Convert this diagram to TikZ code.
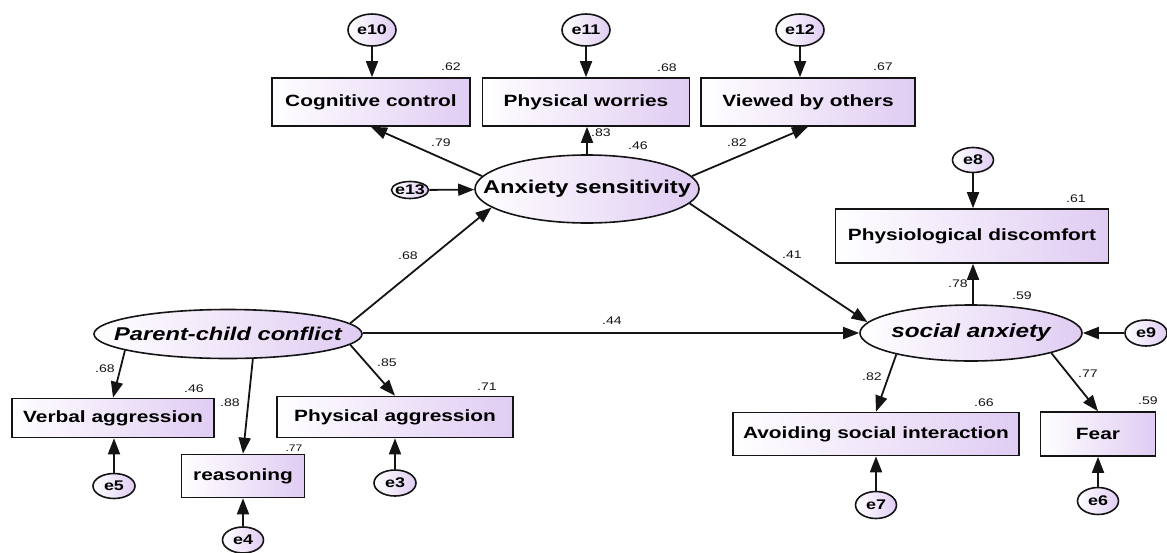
\documentclass[tikz,border=0pt]{standalone}
\usepackage{fontspec}
\setmainfont{Liberation Sans}[FakeStretch=1.28]
\usetikzlibrary{arrows.meta,shapes.geometric}
\definecolor{lav}{RGB}{224,204,243}
\definecolor{ink}{RGB}{20,20,20}
\newcommand{\zb}[1]{\makebox[0pt]{#1}}
\tikzset{
 obs/.style={draw=ink, line width=1.6pt, left color=white, right color=lav, inner sep=0pt, font=\fontsize{16.3}{18}\selectfont\bfseries},
 lat/.style={ellipse, draw=ink, line width=1.6pt, left color=white, right color=lav, inner sep=0pt, font=\fontsize{18.5}{20}\selectfont\bfseries},
 err/.style={ellipse, draw=ink, line width=1.6pt, left color=white, right color=lav, inner sep=0pt, font=\fontsize{14}{16}\selectfont\bfseries},
 lbl/.style={font=\fontsize{11}{12}\selectfont, inner sep=0pt, text=ink},
 arr/.style={draw=ink, line width=1.8pt, -{Triangle[length=16pt,width=12pt]}},
}
\begin{document}
\begin{tikzpicture}[x=1pt,y=-1pt]
\useasboundingbox (0,0) rectangle (1167,552);
% observed boxes
\node[obs, minimum width=198pt, minimum height=48pt] (cog) at (371,102) {Cognitive control};
\node[obs, minimum width=207pt, minimum height=48pt] (pw) at (586,102) {Physical worries};
\node[obs, minimum width=214pt, minimum height=48pt] (vbo) at (808,102) {Viewed by others};
\node[obs, minimum width=273pt, minimum height=54pt] (pd) at (972,236) {Physiological discomfort};
\node[obs, minimum width=286pt, minimum height=43pt] (asi) at (876,434) {Avoiding social interaction};
\node[obs, minimum width=115pt, minimum height=44pt] (fear) at (1098,434) {Fear};
\node[obs, minimum width=202pt, minimum height=39pt] (va) at (113,418) {Verbal aggression};
\node[obs, minimum width=236pt, minimum height=41pt] (pa) at (395,417) {Physical aggression};
\node[obs, minimum width=123pt, minimum height=43pt] (re) at (243,476) {reasoning};
% latent
\node[lat, minimum width=224pt, minimum height=68pt] (as) at (587,189) {\zb{Anxiety sensitivity}};
\node[lat, minimum width=222pt, minimum height=56pt, font=\fontsize{19}{20}\selectfont\bfseries\itshape] (sa) at (971,333) {\zb{social anxiety}};
\node[lat, minimum width=268pt, minimum height=49pt, font=\fontsize{18.5}{20}\selectfont\bfseries\itshape] (pcc) at (228,334) {\zb{Parent-child conflict}};
% errors
\node[err, minimum width=48pt, minimum height=32pt] (e10) at (372,30) {\zb{e10}};
\node[err, minimum width=48pt, minimum height=32pt] (e11) at (586,30) {\zb{e11}};
\node[err, minimum width=48pt, minimum height=32pt] (e12) at (800,30) {\zb{e12}};
\node[err, minimum width=37pt, minimum height=17pt] (e13) at (410,190) {\zb{e13}};
\node[err, minimum width=41pt, minimum height=25pt] (e8) at (973,160) {\zb{e8}};
\node[err, minimum width=42pt, minimum height=26pt] (e9) at (1146,333) {\zb{e9}};
\node[err, minimum width=41pt, minimum height=27pt] (e7) at (876,505) {\zb{e7}};
\node[err, minimum width=41pt, minimum height=27pt] (e6) at (1098,501) {\zb{e6}};
\node[err, minimum width=42pt, minimum height=25pt] (e5) at (114,486) {\zb{e5}};
\node[err, minimum width=41pt, minimum height=26pt] (e4) at (243,540) {\zb{e4}};
\node[err, minimum width=42pt, minimum height=26pt] (e3) at (395,483) {\zb{e3}};
% arrows
\draw[arr] (e10) -- (e10 |- cog.north);
\draw[arr] (e11) -- (e11 |- pw.north);
\draw[arr] (e12) -- (e12 |- vbo.north);
\draw[arr] (as.173) -- (cog.south);
\draw[arr] (as) -- (as |- pw.south);
\draw[arr] (as.7) -- (vbo.south);
\draw[arr] (e13) -- (as);
\draw[arr] (pcc.5) -- (as.191);
\draw[arr] (pcc.east |- sa) -- (sa);
\draw[arr] (as.-8) -- (sa.174);
\draw[arr] (pcc.189) -- (va.north);
\draw[arr] (pcc.-45) -- (re.north);
\draw[arr] (pcc.-5) -- (pa.north);
\draw[arr] (e5) -- (e5 |- va.south);
\draw[arr] (e4) -- (e4 |- re.south);
\draw[arr] (e3) -- (e3 |- pa.south);
\draw[arr] (e8) -- (e8 |- pd.north);
\draw[arr] (sa.north -| e8) -- (e8 |- pd.south);
\draw[arr] (e9) -- (sa);
\draw[arr] (sa.196) -- (asi.north);
\draw[arr] (sa.-14) -- (fear.north);
\draw[arr] (e7) -- (e7 |- asi.south);
\draw[arr] (e6) -- (e6 |- fear.south);
% labels
\node[lbl] (l1) at (451,67) {.62};
\node[lbl] (l2) at (667,68) {.68};
\node[lbl] (l3) at (883,67) {.67};
\node[lbl] (l4) at (441,143) {.79};
\node[lbl] (l5) at (601,133) {.83};
\node[lbl] (l6) at (638,146) {.46};
\node[lbl] (l7) at (737,143) {.82};
\node[lbl] (l8) at (408,256) {.68};
\node[lbl] (l9) at (792,255) {.41};
\node[lbl] (l10) at (612,321) {.44};
\node[lbl] (l11) at (1076,199) {.61};
\node[lbl] (l12) at (958,284) {.78};
\node[lbl] (l13) at (1022,296) {.59};
\node[lbl] (l14) at (872,377) {.82};
\node[lbl] (l15) at (1088,374) {.77};
\node[lbl] (l16) at (984,403) {.66};
\node[lbl] (l17) at (1148,401) {.59};
\node[lbl] (l18) at (105,369) {.68};
\node[lbl] (l19) at (194,389) {.46};
\node[lbl] (l20) at (230,403) {.88};
\node[lbl, font=\fontsize{9.5}{11}\selectfont] (l21) at (294,448) {.77};
\node[lbl] (l22) at (387,363) {.85};
\node[lbl] (l23) at (487,387) {.71};
\end{tikzpicture}
\end{document}
